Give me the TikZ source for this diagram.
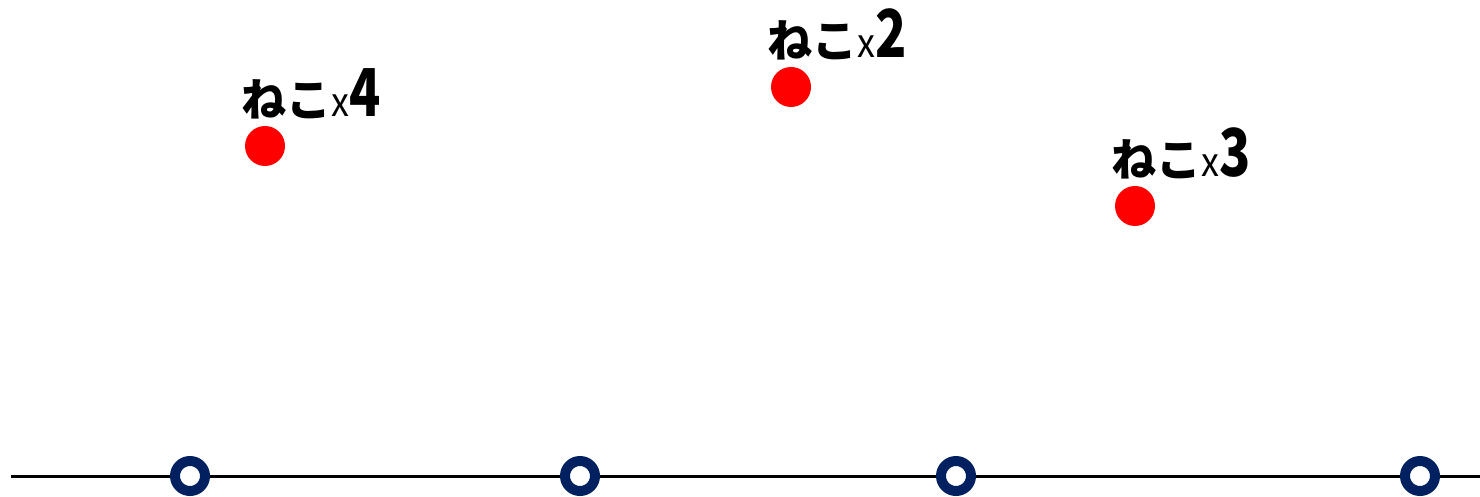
\documentclass[tikz,border=0pt]{standalone}
\usepackage{fontspec}
\usepackage{graphicx}
\newfontfamily\cjk{Noto Sans CJK JP}
\usetikzlibrary{calc}
\definecolor{navy}{HTML}{002060}
\definecolor{dotred}{HTML}{FF0000}
\tikzset{
  reddot/.style={circle,fill=dotred,draw=none,minimum size=40pt,inner sep=0pt},
  ring/.style={circle,draw=navy,line width=10pt,fill=white,minimum size=30pt,inner sep=0pt},
  axisline/.style={line width=3pt,black},
  catlabel/.style={anchor=base west,inner sep=0pt,text=black}
}
\newcommand{\catlbl}[1]{{\cjk\bfseries\fontsize{45}{45}\selectfont ねこ}{\cjk\fontsize{40}{40}\selectfont\scalebox{0.9}[1]{x}}{\cjk\bfseries\fontsize{66}{66}\selectfont\scalebox{0.78}[1]{#1}}}
\begin{document}
\begin{tikzpicture}[x=1pt,y=-1pt]
\useasboundingbox (0,0) rectangle (1480,497);
\coordinate (l) at (11,476);
\coordinate (r) at (1480,476);
\draw[axisline] (l) -- (r);
\node[ring] (c1) at (190,476) {};
\node[ring] (c2) at (580,476) {};
\node[ring] (c3) at (956,476) {};
\node[ring] (c4) at (1420,476) {};
\node[reddot] (d1) at (265,146) {};
\node[reddot] (d2) at (791,87) {};
\node[reddot] (d3) at (1135,206) {};
\node[catlabel] (t1) at ($(d1)+(-24,-29)$) {\catlbl{4}};
\node[catlabel] (t2) at ($(d2)+(-24,-29)$) {\catlbl{2}};
\node[catlabel] (t3) at ($(d3)+(-24,-29)$) {\catlbl{3}};
\end{tikzpicture}
\end{document}
